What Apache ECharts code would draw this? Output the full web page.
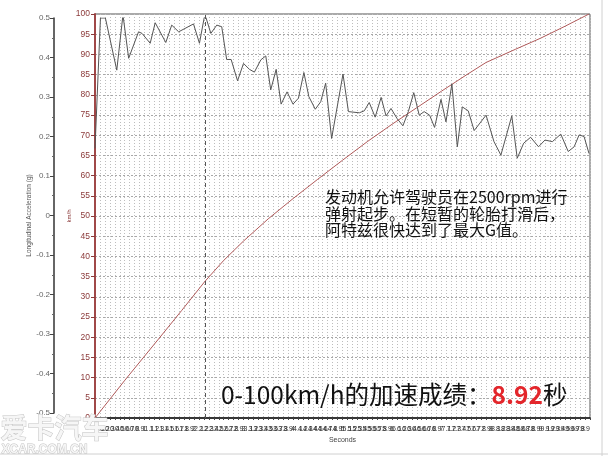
<!DOCTYPE html>
<html>
<head>
<meta charset="utf-8">
<script src="https://cdn.jsdelivr.net/npm/echarts@6.0.0/dist/echarts.min.js"></script>
<style>
html,body{margin:0;padding:0;background:#fff;}
#chart{width:608px;height:456px;}
</style>
</head>
<body>
<div id="chart"></div>
<script>
// ---- data ----
const speedTimes  = [0, 0.6, 1.3, 1.75, 2.22, 2.6, 3.0, 3.5, 4.0, 4.5, 5.0, 5.5, 6.0, 6.5, 7.0, 7.5, 7.9, 8.5, 9.0, 9.5, 9.98];
const speedValues = [0, 9.3, 19.8, 26.6, 33.8, 39.0, 43.8, 49.3, 54.3, 59.1, 63.8, 68.4, 72.7, 76.8, 80.9, 84.9, 88.0, 91.3, 94.0, 97.0, 100];

const accTimes = [0, 0.11, 0.21, 0.44, 0.565, 0.68, 0.88, 0.95, 1.115, 1.216, 1.43, 1.55, 1.69, 1.99, 2.11, 2.22, 2.34, 2.46, 2.56, 2.66, 2.75, 2.88, 3.0, 3.12, 3.22,
  3.35, 3.45, 3.55, 3.66, 3.76, 3.88, 4.0, 4.11, 4.22, 4.32, 4.45, 4.56, 4.66, 4.78, 5.01, 5.12, 5.34, 5.44, 5.54, 5.66, 5.78, 5.88, 5.98, 6.1, 6.22, 6.33, 6.44, 6.55, 6.65,
  6.76, 6.86, 6.99, 7.09, 7.21, 7.32, 7.42, 7.54, 7.66, 7.9, 8.06, 8.2, 8.42, 8.53, 8.66, 8.8, 8.96, 9.09, 9.24, 9.41, 9.56, 9.68, 9.78, 9.88, 9.98];
const accValues = [0.17, 0.50, 0.50, 0.368, 0.508, 0.398, 0.465, 0.461, 0.436, 0.488, 0.438, 0.482, 0.465, 0.485, 0.436, 0.51, 0.461, 0.482, 0.478, 0.395, 0.395, 0.341, 0.385, 0.37, 0.363,
  0.394, 0.404, 0.318, 0.37, 0.282, 0.313, 0.282, 0.297, 0.362, 0.301, 0.269, 0.288, 0.335, 0.195, 0.358, 0.263, 0.26, 0.265, 0.286, 0.249, 0.299, 0.252, 0.271, 0.246, 0.227, 0.263, 0.311, 0.254, 0.263,
  0.254, 0.223, 0.294, 0.237, 0.333, 0.174, 0.275, 0.265, 0.215, 0.254, 0.187, 0.153, 0.252, 0.145, 0.183, 0.198, 0.174, 0.191, 0.187, 0.206, 0.162, 0.174, 0.204, 0.200, 0.157];

const cursorTime = 2.22;
const xMin = 0, xMax = 10, xStep = 0.1;
const speedMin = 0, speedMax = 100, speedStep = 5;
const accMin = -0.5, accMax = 0.5, accStep = 0.1;

const xName = 'Seconds';
const speedName = 'km/h';
const accName = 'Longitudinal Acceleration (g)';
const noteLines = ['发动机允许驾驶员在2500rpm进行', '弹射起步。在短暂的轮胎打滑后，', '阿特兹很快达到了最大G值。'];
const resultPrefix = '0-100km/h的加速成绩：';
const resultValue = '8.92';
const resultSuffix = '秒';

// ---- chart ----
const speedData = speedTimes.map((t, i) => [t, speedValues[i]]);
const accData = accTimes.map((t, i) => [t, accValues[i]]);
const latin = '"Liberation Sans", Arial, sans-serif';
const cjk = '"Noto Sans CJK SC", sans-serif';

const chart = echarts.init(document.getElementById('chart'), null, {renderer: 'canvas'});
chart.setOption({
  animation: false,
  backgroundColor: '#ffffff',
  grid: [
    {left: 95, right: 18, top: 14, bottom: 38, show: true, borderColor: '#555', borderWidth: 1, backgroundColor: '#fff'},
    {left: 95, right: 18, top: 18, bottom: 43}
  ],
  xAxis: [
    {
      type: 'value', gridIndex: 0, min: xMin, max: xMax, interval: xStep,
      name: xName, nameLocation: 'middle', nameGap: 19, nameMoveOverlap: false,
      nameTextStyle: {fontSize: 7, color: '#444', fontFamily: latin},
      axisLine: {show: true, lineStyle: {color: '#111', width: 1.5}},
      axisTick: {show: true, length: 2, lineStyle: {color: '#444'}},
      axisLabel: {
        show: true, interval: 0, hideOverlap: false, fontSize: 7, color: '#333', margin: 8, fontFamily: latin,
        formatter: v => (v >= 9.95 ? '' : String(Math.round(v * 10) / 10))
      },
      splitLine: {show: true, lineStyle: {color: '#bdbdbd', type: [1, 2], width: 1}}
    },
    {type: 'value', gridIndex: 1, min: xMin, max: xMax, show: false}
  ],
  yAxis: [
    {
      type: 'value', gridIndex: 0, min: speedMin, max: speedMax, interval: speedStep,
      name: speedName, nameLocation: 'middle', nameGap: 23, nameMoveOverlap: false,
      nameTextStyle: {fontSize: 6, color: '#8b3a3a', fontFamily: latin},
      axisLine: {show: true, lineStyle: {color: '#a04848', width: 2}},
      axisTick: {show: true, length: 4, lineStyle: {color: '#8b3a3a'}},
      axisLabel: {fontSize: 8.5, color: '#8b3a3a', margin: 5, fontFamily: latin},
      splitLine: {show: true, lineStyle: {color: '#a8a8a8', type: [2, 2], width: 1}}
    },
    {
      type: 'value', gridIndex: 1, min: accMin, max: accMax, interval: accStep, offset: 41,
      name: accName, nameLocation: 'middle', nameGap: 21, nameMoveOverlap: false,
      nameTextStyle: {fontSize: 6.5, color: '#555', fontFamily: latin},
      axisLine: {show: true, onZero: false, lineStyle: {color: '#333', width: 1.5}},
      axisTick: {show: true, length: 4, lineStyle: {color: '#444'}},
      minorTick: {show: true, splitNumber: 2, length: 2, lineStyle: {color: '#666'}},
      axisLabel: {fontSize: 8, color: '#666', margin: 4, fontFamily: latin,
        formatter: v => String(Math.round(v * 10) / 10)},
      splitLine: {show: false}
    }
  ],
  series: [
    {
      type: 'line', xAxisIndex: 0, yAxisIndex: 0, data: speedData, showSymbol: false, smooth: false,
      lineStyle: {color: '#b05a5a', width: 1}, z: 3,
      markLine: {
        silent: true, symbol: ['none', 'none'], label: {show: false},
        lineStyle: {color: '#555', type: [4, 3], width: 1},
        data: [{xAxis: cursorTime}]
      }
    },
    {
      type: 'line', xAxisIndex: 1, yAxisIndex: 1, data: accData, showSymbol: false, smooth: false,
      lineStyle: {color: '#555', width: 1}, z: 4
    }
  ],
  graphic: [
    {type: 'text', left: 325, top: 189, z: 10,
      style: {text: noteLines.join('\n'), font: '16px ' + cjk, lineHeight: 16.5, fill: '#111'}},
    {type: 'text', left: 221, top: 382, z: 10,
      style: {
        text: '{a|' + resultPrefix + '}{b|' + resultValue + '}{a|' + resultSuffix + '}',
        rich: {
          a: {fontSize: 24.5, fontFamily: cjk, fill: '#111', color: '#111'},
          b: {fontSize: 24.5, fontFamily: cjk, fontWeight: 'bold', fill: '#e3262b', color: '#e3262b'}
        }
      }},
    {type: 'text', left: 0, top: 414, z: 20,
      style: {text: '爱卡汽车', font: 'bold 27px ' + cjk, fill: '#f6f6f6', stroke: '#c4c4c4', lineWidth: 1}},
    {type: 'text', left: 1, top: 443, z: 20,
      style: {text: 'XCAR.COM.CN', font: 'bold 12px ' + latin, fill: '#f6f6f6', stroke: '#c4c4c4', lineWidth: 1}},
    {type: 'line', z: 1, shape: {x1: 602, y1: 0, x2: 602, y2: 456}, style: {stroke: '#d0d0d0', lineWidth: 1}},
    {type: 'line', z: 1, shape: {x1: 0, y1: 454, x2: 608, y2: 454}, style: {stroke: '#d0d0d0', lineWidth: 1}}
  ]
});
</script>
</body>
</html>
